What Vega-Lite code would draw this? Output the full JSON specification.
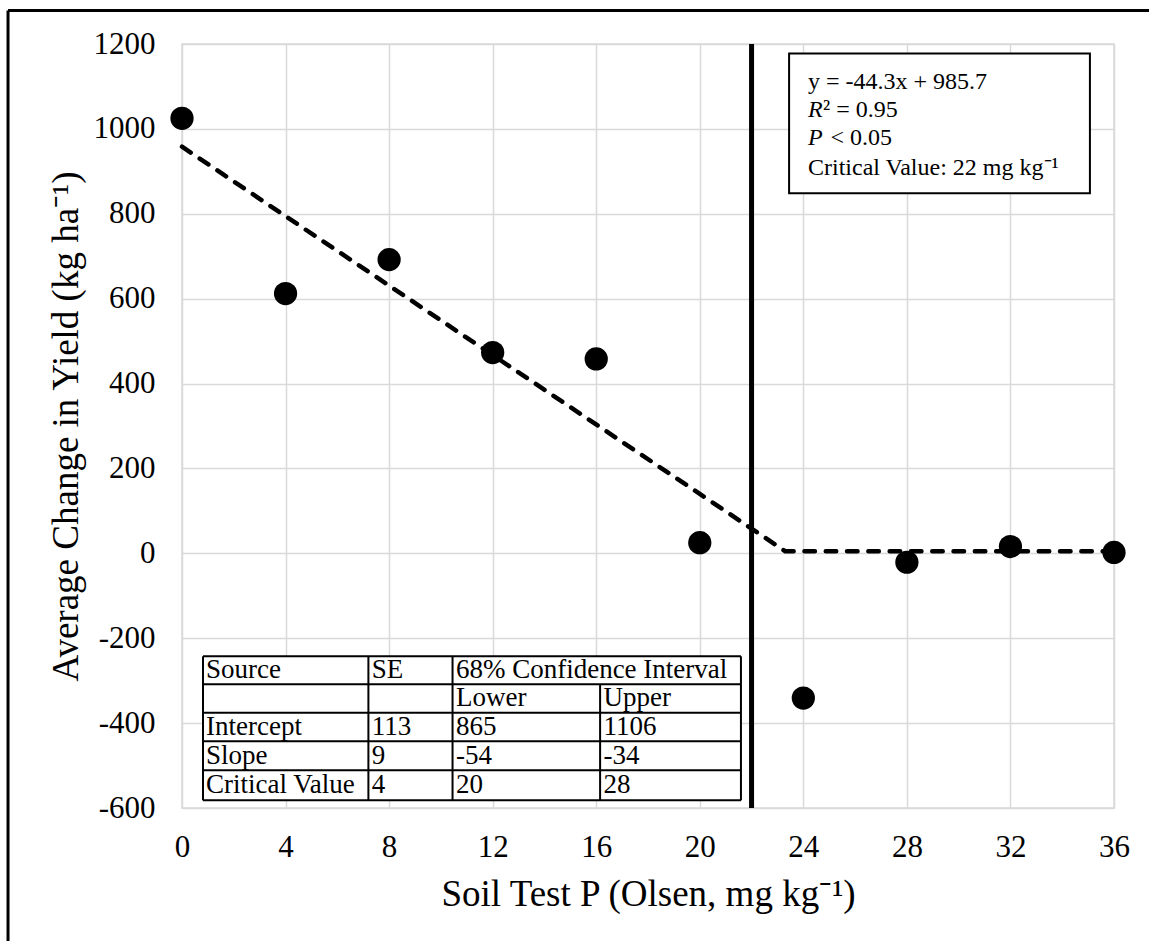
{
  "$schema": "https://vega.github.io/schema/vega-lite/v6.json",
  "width": 932,
  "height": 764,
  "autosize": "none",
  "padding": {"left": 182, "top": 44, "right": 35, "bottom": 133},
  "background": "white",
  "config": {
    "font": "Liberation Serif",
    "view": {"stroke": "#d9d9d9", "strokeWidth": 1.5},
    "axis": {
      "labelFont": "Liberation Serif",
      "titleFont": "Liberation Serif",
      "labelFontSize": 31,
      "titleFontSize": 37,
      "titleFontWeight": "normal",
      "labelColor": "black",
      "titleColor": "black",
      "gridColor": "#d9d9d9",
      "gridWidth": 1.5,
      "domain": false,
      "ticks": false,
      "labelFlush": false,
      "labelExpr": "'' + datum.value"
    }
  },
  "datasets": {
    "pts": [
      {"p": 0, "yield": 1025},
      {"p": 4, "yield": 612},
      {"p": 8, "yield": 692},
      {"p": 12, "yield": 473},
      {"p": 16, "yield": 458},
      {"p": 20, "yield": 25},
      {"p": 24, "yield": -341},
      {"p": 28, "yield": -21},
      {"p": 32, "yield": 16},
      {"p": 36, "yield": 2}
    ],
    "fit": [
      {"p": 0, "yield": 958},
      {"p": 23.3, "yield": 5},
      {"p": 36, "yield": 5}
    ],
    "crit": [{"p": 22}],
    "frame": [
      {"x1": -6.72, "x2": 38, "y1": 1279, "y2": 1279},
      {"x1": -6.72, "x2": -6.72, "y1": 1279, "y2": -950}
    ],
    "box": [{"x1": 23.45, "x2": 35.07, "y1": 1177.9, "y2": 848.1}],
    "boxtext": [
      {"x": 24.18, "y": 1111, "label": "y = -44.3x + 985.7"},
      {"x": 24.76, "y": 1043.6, "label": "² = 0.95"},
      {"x": 25.05, "y": 977.6, "label": "< 0.05"},
      {"x": 24.18, "y": 908, "label": "Critical Value: 22 mg kg⁻¹"}
    ],
    "boxital": [
      {"x": 24.18, "y": 1043.6, "label": "R"},
      {"x": 24.18, "y": 977.6, "label": "P"}
    ],
    "tbg": [{"x1": 0.811, "x2": 21.59, "y1": -242.6, "y2": -581.9}],
    "tlines": [
      {"x1": 0.811, "x2": 21.59, "y1": -242.6, "y2": -242.6},
      {"x1": 0.811, "x2": 21.59, "y1": -308.6, "y2": -308.6},
      {"x1": 0.811, "x2": 21.59, "y1": -375.7, "y2": -375.7},
      {"x1": 0.811, "x2": 21.59, "y1": -442.9, "y2": -442.9},
      {"x1": 0.811, "x2": 21.59, "y1": -511.2, "y2": -511.2},
      {"x1": 0.811, "x2": 21.59, "y1": -581.9, "y2": -581.9},
      {"x1": 0.811, "x2": 0.811, "y1": -242.6, "y2": -581.9},
      {"x1": 7.2, "x2": 7.2, "y1": -242.6, "y2": -581.9},
      {"x1": 10.45, "x2": 10.45, "y1": -242.6, "y2": -581.9},
      {"x1": 21.59, "x2": 21.59, "y1": -242.6, "y2": -581.9},
      {"x1": 16.15, "x2": 16.15, "y1": -308.6, "y2": -581.9}
    ],
    "ttext": [
      {"x": 0.93, "y": -275.6, "label": "Source"},
      {"x": 7.33, "y": -275.6, "label": "SE"},
      {"x": 10.58, "y": -275.6, "label": "68% Confidence Interval"},
      {"x": 10.58, "y": -341.6, "label": "Lower"},
      {"x": 16.28, "y": -341.6, "label": "Upper"},
      {"x": 0.93, "y": -409.9, "label": "Intercept"},
      {"x": 7.33, "y": -409.9, "label": "113"},
      {"x": 10.58, "y": -409.9, "label": "865"},
      {"x": 16.28, "y": -409.9, "label": "1106"},
      {"x": 0.93, "y": -477, "label": "Slope"},
      {"x": 7.33, "y": -477, "label": "9"},
      {"x": 10.58, "y": -477, "label": "-54"},
      {"x": 16.28, "y": -477, "label": "-34"},
      {"x": 0.93, "y": -546.5, "label": "Critical Value"},
      {"x": 7.33, "y": -546.5, "label": "4"},
      {"x": 10.58, "y": -546.5, "label": "20"},
      {"x": 16.28, "y": -546.5, "label": "28"}
    ]
  },
  "layer": [
    {
      "data": {"name": "fit"},
      "mark": {"type": "line", "color": "black", "strokeWidth": 4.5, "strokeDash": [10.5, 10.8], "strokeCap": "round"},
      "encoding": {
        "x": {"field": "p", "type": "quantitative", "scale": {"domain": [0, 36], "nice": false},
          "axis": {"values": [0, 4, 8, 12, 16, 20, 24, 28, 32, 36], "title": "Soil Test P (Olsen, mg kg⁻¹)", "labelPadding": 24, "titlePadding": 14}},
        "y": {"field": "yield", "type": "quantitative", "scale": {"domain": [-600, 1200], "nice": false},
          "axis": {"values": [-600, -400, -200, 0, 200, 400, 600, 800, 1000, 1200], "title": "Average Change in Yield (kg ha⁻¹)", "labelPadding": 27, "titlePadding": 8}}
      }
    },
    {
      "data": {"name": "pts"},
      "mark": {"type": "circle", "color": "black", "opacity": 1, "size": 540},
      "encoding": {
        "x": {"field": "p", "type": "quantitative"},
        "y": {"field": "yield", "type": "quantitative"}
      }
    },
    {
      "data": {"name": "crit"},
      "mark": {"type": "rule", "color": "black", "strokeWidth": 5},
      "encoding": {
        "x": {"field": "p", "type": "quantitative"}
      }
    },
    {
      "data": {"name": "frame"},
      "mark": {"type": "rule", "color": "black", "strokeWidth": 3},
      "encoding": {
        "x": {"field": "x1", "type": "quantitative"},
        "x2": {"field": "x2"},
        "y": {"field": "y1", "type": "quantitative"},
        "y2": {"field": "y2"}
      }
    },
    {
      "data": {"name": "tbg"},
      "mark": {"type": "rect", "fill": "white"},
      "encoding": {
        "x": {"field": "x1", "type": "quantitative"},
        "x2": {"field": "x2"},
        "y": {"field": "y1", "type": "quantitative"},
        "y2": {"field": "y2"}
      }
    },
    {
      "data": {"name": "tlines"},
      "mark": {"type": "rule", "color": "black", "strokeWidth": 2},
      "encoding": {
        "x": {"field": "x1", "type": "quantitative"},
        "x2": {"field": "x2"},
        "y": {"field": "y1", "type": "quantitative"},
        "y2": {"field": "y2"}
      }
    },
    {
      "data": {"name": "ttext"},
      "mark": {"type": "text", "align": "left", "baseline": "middle", "fontSize": 27, "font": "Liberation Serif", "color": "black"},
      "encoding": {
        "x": {"field": "x", "type": "quantitative"},
        "y": {"field": "y", "type": "quantitative"},
        "text": {"field": "label"}
      }
    },
    {
      "data": {"name": "box"},
      "mark": {"type": "rect", "fill": "white", "stroke": "black", "strokeWidth": 2},
      "encoding": {
        "x": {"field": "x1", "type": "quantitative"},
        "x2": {"field": "x2"},
        "y": {"field": "y1", "type": "quantitative"},
        "y2": {"field": "y2"}
      }
    },
    {
      "data": {"name": "boxtext"},
      "mark": {"type": "text", "align": "left", "baseline": "middle", "fontSize": 24, "font": "Liberation Serif", "color": "black"},
      "encoding": {
        "x": {"field": "x", "type": "quantitative"},
        "y": {"field": "y", "type": "quantitative"},
        "text": {"field": "label"}
      }
    },
    {
      "data": {"name": "boxital"},
      "mark": {"type": "text", "align": "left", "baseline": "middle", "fontSize": 24, "font": "Liberation Serif", "fontStyle": "italic", "color": "black"},
      "encoding": {
        "x": {"field": "x", "type": "quantitative"},
        "y": {"field": "y", "type": "quantitative"},
        "text": {"field": "label"}
      }
    }
  ]
}
